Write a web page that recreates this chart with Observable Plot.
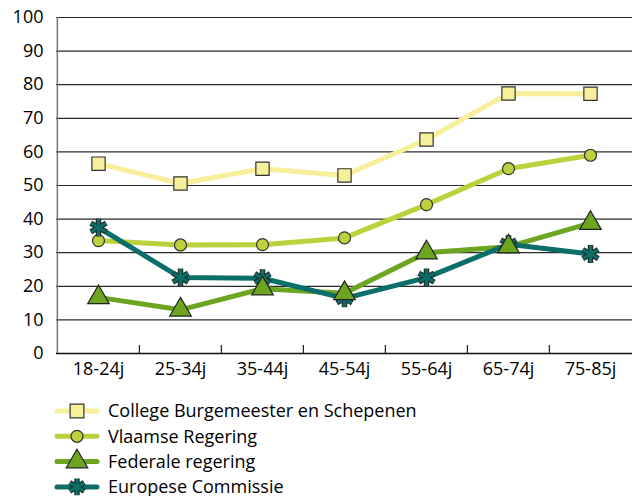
<!DOCTYPE html>
<html><head><meta charset="utf-8">
<script src="https://cdn.jsdelivr.net/npm/d3@7"></script>
<script src="https://cdn.jsdelivr.net/npm/@observablehq/plot@0.6"></script>
<style>
body{margin:0;background:#fff;font-family:"Open Sans",sans-serif;}
#chart svg{display:block}
</style></head>
<body><div id="chart"></div>
<script>
const categories = ["18-24j","25-34j","35-44j","45-54j","55-64j","65-74j","75-85j"];
const seriesNames = ["College Burgemeester en Schepenen","Vlaamse Regering","Federale regering","Europese Commissie"];
const college = [56.5, 50.6, 55.0, 53.0, 63.7, 77.4, 77.3];
const vlaamse = [33.6, 32.3, 32.4, 34.4, 44.3, 55.0, 59.0];
const federale = [16.7, 13.0, 19.3, 17.9, 30.0, 31.8, 38.8];
const europese = [37.5, 22.6, 22.4, 16.4, 22.6, 32.5, 29.6];
const yTicks = [0,10,20,30,40,50,60,70,80,90,100];

const colors = ["#f8ef9c","#bdd13f","#6ca520","#0c6e69"];
const values = [college, vlaamse, federale, europese];
const data = [];
values.forEach((arr, s) => arr.forEach((v, i) => data.push({series: seriesNames[s], cat: categories[i], value: v, s})));

const W = 632, H = 390, mL = 56, mR = 0, mT = 17, mB = 37;
const step = (W - mL - mR) / categories.length;
const innerH = H - mT - mB;
const FS = 18;

const marks = [
  Plot.ruleY(yTicks.filter(d => d > 0), {stroke: "#2a2a2a", strokeWidth: 1.2}),
  Plot.ruleX(categories.slice(1), {dx: -step/2, insetTop: innerH - 8, stroke: "#222", strokeWidth: 1.2}),
  Plot.ruleX([categories[0]], {dx: -step/2, stroke: "#777", strokeWidth: 1.5}),
  Plot.ruleY([0], {stroke: "#111", strokeWidth: 1.6}),
  Plot.axisY(yTicks, {tickSize: 0, tickPadding: 13, fontSize: FS, fill: "#000", label: null}),
  Plot.axisX(categories, {tickSize: 0, tickPadding: 9, fontSize: FS, fill: "#000", label: null})
];
seriesNames.forEach((name, s) => {
  marks.push(Plot.line(data.filter(d => d.s === s), {x: "cat", y: "value", stroke: colors[s], strokeWidth: 5, strokeLinejoin: "round"}));
});
marks.push(Plot.dot(data.filter(d => d.s === 0), {x: "cat", y: "value", symbol: "square", r: 7.5, fill: colors[0], stroke: "#333", strokeWidth: 1.2}));
marks.push(Plot.dot(data.filter(d => d.s === 1), {x: "cat", y: "value", symbol: "circle", r: 6, fill: colors[1], stroke: "#333", strokeWidth: 1.2}));
marks.push(Plot.dot(data.filter(d => d.s === 3), {x: "cat", y: "value", symbol: "asterisk", r: 8.5, stroke: "#1c3332", strokeWidth: 5.5}));
marks.push(Plot.dot(data.filter(d => d.s === 3), {x: "cat", y: "value", symbol: "asterisk", r: 8, stroke: colors[3], strokeWidth: 3}));
marks.push(Plot.dot(data.filter(d => d.s === 2), {x: "cat", y: "value", symbol: "triangle", r: 8, fill: colors[2], stroke: "#222", strokeWidth: 1.2}));

const chart = Plot.plot({
  width: W, height: H,
  marginLeft: mL, marginRight: mR, marginTop: mT, marginBottom: mB,
  style: {fontFamily: "Open Sans, sans-serif", background: "#fff"},
  x: {type: "point", domain: categories, padding: 0.5, axis: null},
  y: {domain: [0, 100], axis: null},
  marks
});
document.getElementById("chart").appendChild(chart);

// legend
const leg = d3.select("#chart").append("svg").attr("width", W).attr("height", 106);
seriesNames.forEach((name, s) => {
  const y = 21 + s * 25.3;
  const g = leg.append("g");
  g.append("line").attr("x1", 57).attr("x2", 97).attr("y1", y).attr("y2", y).attr("stroke", colors[s]).attr("stroke-width", 5).attr("stroke-linecap", "round");
  const t = `translate(77,${y})`;
  if (s === 0) g.append("path").attr("d", d3.symbol(d3.symbolSquare, 190)()).attr("transform", t).attr("fill", colors[0]).attr("stroke", "#333").attr("stroke-width", 1.2);
  if (s === 1) g.append("path").attr("d", d3.symbol(d3.symbolCircle, 113)()).attr("transform", t).attr("fill", colors[1]).attr("stroke", "#333").attr("stroke-width", 1.2);
  if (s === 2) g.append("path").attr("d", d3.symbol(d3.symbolTriangle, 200)()).attr("transform", t).attr("fill", colors[2]).attr("stroke", "#222").attr("stroke-width", 1.2);
  if (s === 3) {
    g.append("path").attr("d", d3.symbol(d3.symbolAsterisk, 200)()).attr("transform", t).attr("fill", "none").attr("stroke", "#1c3332").attr("stroke-width", 5.5);
    g.append("path").attr("d", d3.symbol(d3.symbolAsterisk, 180)()).attr("transform", t).attr("fill", "none").attr("stroke", colors[3]).attr("stroke-width", 3);
  }
  g.append("text").attr("x", 108).attr("y", y).attr("dy", "0.35em").attr("font-size", FS).attr("fill", "#000").text(name);
});
</script>
</body></html>
